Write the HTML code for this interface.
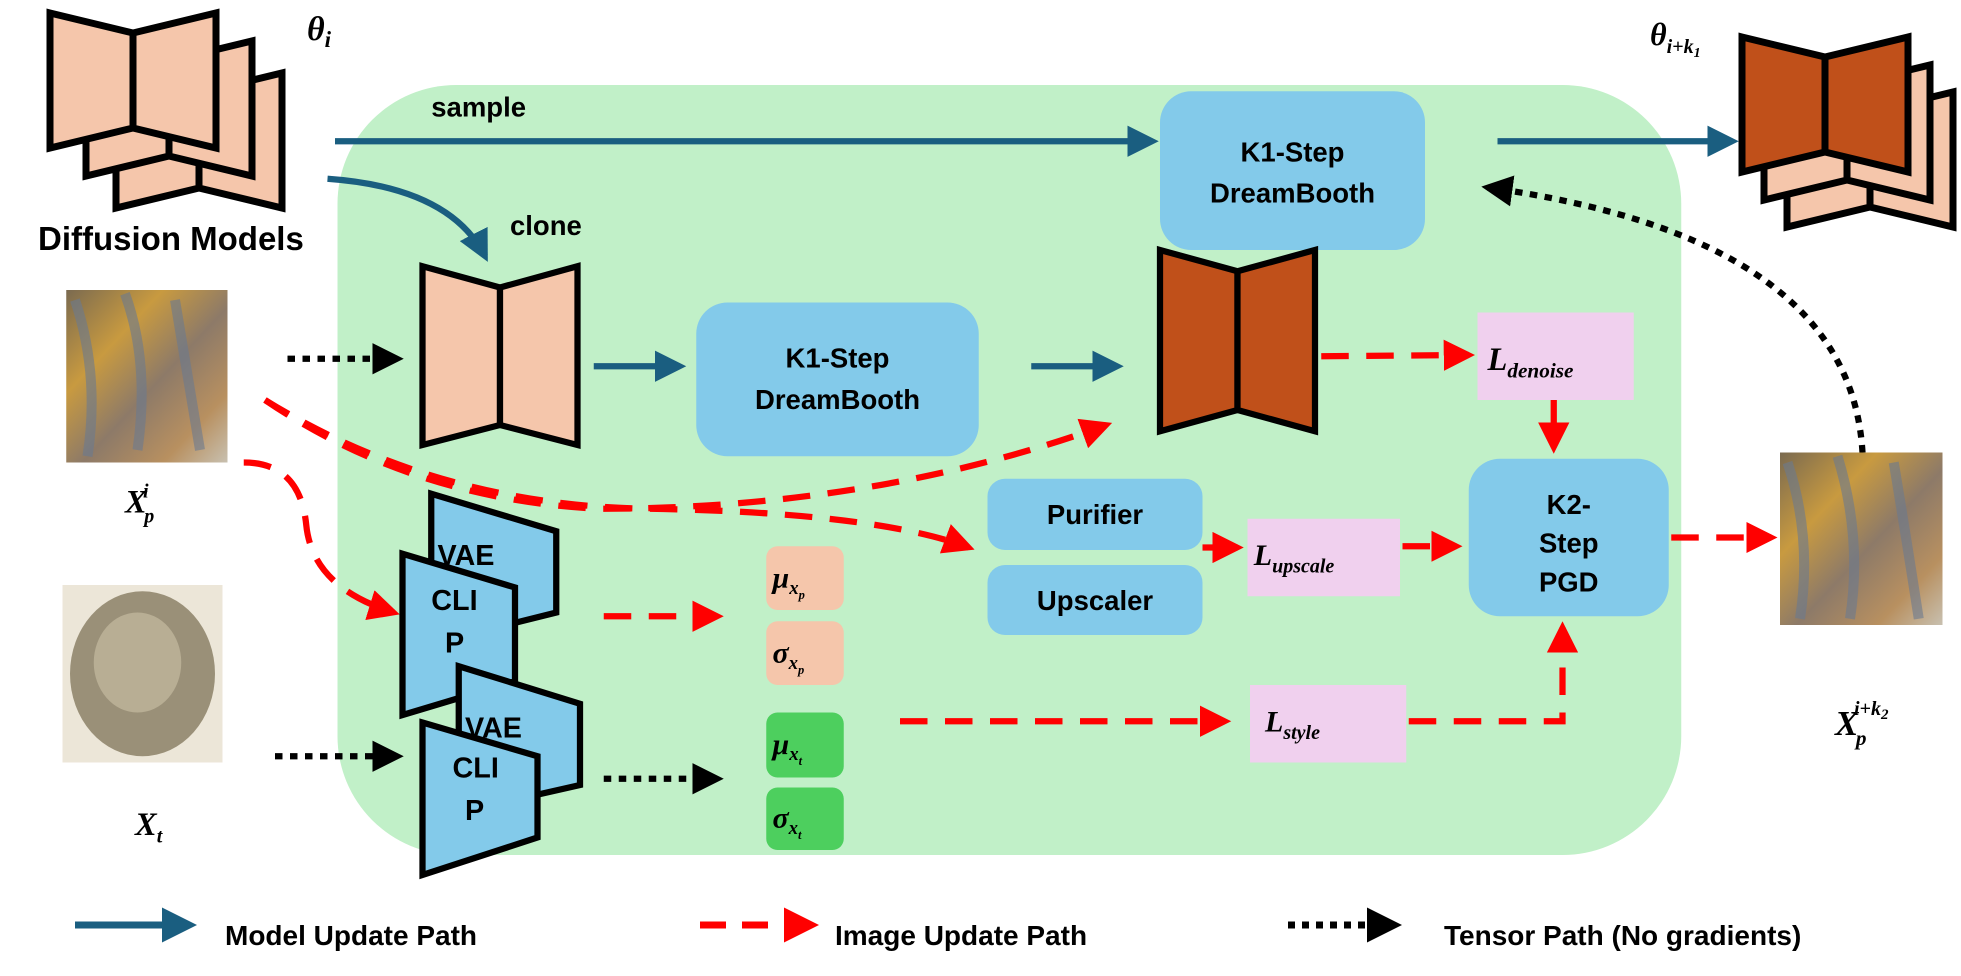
<!DOCTYPE html>
<html><head><meta charset="utf-8"><style>
html,body{margin:0;padding:0;background:#fff}
svg{display:block}
text{font-family:"Liberation Sans",sans-serif;font-weight:bold;fill:#000}
.m{font-family:"Liberation Serif",serif;font-style:italic;font-weight:bold}
</style></head><body>
<svg width="1961" height="976" viewBox="0 0 1961 976" xmlns="http://www.w3.org/2000/svg">
<defs>
<marker id="ab" markerWidth="5" markerHeight="5" refX="4" refY="2.5" orient="auto" markerUnits="strokeWidth"><path d="M0,0 L5,2.5 L0,5z" fill="#1A5E80"/></marker>
<marker id="ar" markerWidth="5" markerHeight="5" refX="4" refY="2.5" orient="auto" markerUnits="strokeWidth"><path d="M0,0 L5,2.5 L0,5z" fill="#f00"/></marker>
<marker id="ak" markerWidth="5" markerHeight="5" refX="4" refY="2.5" orient="auto" markerUnits="strokeWidth"><path d="M0,0 L5,2.5 L0,5z" fill="#000"/></marker>
<linearGradient id="vg" x1="0" y1="0" x2="1" y2="1">
<stop offset="0" stop-color="#7a6a50"/><stop offset="0.3" stop-color="#c89a40"/><stop offset="0.55" stop-color="#8d7a68"/><stop offset="0.8" stop-color="#b89060"/><stop offset="1" stop-color="#c8c0b0"/></linearGradient>
</defs>

<g transform="scale(1.25)">
<rect x="270" y="68" width="1075" height="616" rx="95" fill="#C1F0C8"/>

<text x="345" y="93" font-size="22">sample</text>
<text x="408" y="188" font-size="22">clone</text>

<line x1="268" y1="113" x2="922" y2="113" stroke="#1A5E80" stroke-width="5" marker-end="url(#ab)"/>
<path d="M262,143 Q360,150 388,205" fill="none" stroke="#1A5E80" stroke-width="5" marker-end="url(#ab)"/>
<rect x="928" y="73" width="212" height="127" rx="25" fill="#83CAEA"/>
<text x="1034" y="129" font-size="22" text-anchor="middle">K1-Step</text>
<text x="1034" y="162" font-size="22" text-anchor="middle">DreamBooth</text>
<line x1="1198" y1="113" x2="1386" y2="113" stroke="#1A5E80" stroke-width="5" marker-end="url(#ab)"/>
<path d="M1490,362 Q1480,190 1190,150" fill="none" stroke="#000" stroke-width="5" stroke-dasharray="6,6" marker-end="url(#ak)"/>

<rect x="53" y="232" width="129" height="138" fill="url(#vg)"/>
<path d="M60,240 Q80,300 70,365 M100,235 Q120,290 110,360 M140,240 Q150,300 160,360" stroke="#6a7a90" stroke-width="8" fill="none" opacity="0.6"/>
<text x="100" y="410" font-size="26" class="m">X<tspan font-size="16" dy="8" dx="-2">p</tspan><tspan font-size="16" dy="-20" dx="-9">i</tspan></text>
<line x1="230" y1="287" x2="318" y2="287" stroke="#000" stroke-width="5" stroke-dasharray="6,6" marker-end="url(#ak)"/>

<g stroke="#000" stroke-width="5">
<polygon points="338,213 400,230 400,340 338,356" fill="#F5C6AB"/><polygon points="400,230 462,213 462,356 400,340" fill="#F5C6AB"/>
<polygon points="928,200 990,217 990,328 928,345" fill="#C0501A"/><polygon points="990,217 1052,200 1052,345 990,328" fill="#C0501A"/>
</g>
<line x1="475" y1="293" x2="544" y2="293" stroke="#1A5E80" stroke-width="5" marker-end="url(#ab)"/>
<rect x="557" y="242" width="226" height="123" rx="25" fill="#83CAEA"/>
<text x="670" y="294" font-size="22" text-anchor="middle">K1-Step</text>
<text x="670" y="327" font-size="22" text-anchor="middle">DreamBooth</text>
<line x1="825" y1="293" x2="894" y2="293" stroke="#1A5E80" stroke-width="5" marker-end="url(#ab)"/>

<line x1="1057" y1="285" x2="1175" y2="284" stroke="#f00" stroke-width="5" stroke-dasharray="22,14" marker-end="url(#ar)"/>
<rect x="1182" y="250" width="125" height="70" fill="#F0D0EE"/>
<text x="1190" y="296" font-size="26" class="m">L<tspan font-size="17" dy="6">denoise</tspan></text>
<line x1="1243" y1="320" x2="1243" y2="358" stroke="#f00" stroke-width="5" stroke-dasharray="22,14" marker-end="url(#ar)"/>
<rect x="1175" y="367" width="160" height="126" rx="25" fill="#83CAEA"/>
<text x="1255" y="411" font-size="22" text-anchor="middle">K2-</text>
<text x="1255" y="442" font-size="22" text-anchor="middle">Step</text>
<text x="1255" y="473" font-size="22" text-anchor="middle">PGD</text>

<rect x="790" y="383" width="172" height="57" rx="14" fill="#83CAEA"/>
<text x="876" y="419" font-size="22" text-anchor="middle">Purifier</text>
<rect x="790" y="452" width="172" height="56" rx="14" fill="#83CAEA"/>
<text x="876" y="488" font-size="22" text-anchor="middle">Upscaler</text>
<line x1="962" y1="438" x2="990" y2="438" stroke="#f00" stroke-width="5" marker-end="url(#ar)"/>
<rect x="998" y="415" width="122" height="62" fill="#F0D0EE"/>
<text x="1003" y="452" font-size="24" class="m">L<tspan font-size="16" dy="6">upscale</tspan></text>
<line x1="1122" y1="437" x2="1165" y2="437" stroke="#f00" stroke-width="5" stroke-dasharray="22,14" marker-end="url(#ar)"/>
<line x1="1337" y1="430" x2="1417" y2="430" stroke="#f00" stroke-width="5" stroke-dasharray="22,14" marker-end="url(#ar)"/>

<rect x="1424" y="362" width="130" height="138" fill="url(#vg)"/>
<path d="M1430,370 Q1450,430 1440,495 M1470,365 Q1490,430 1480,495 M1515,370 Q1525,430 1535,495" stroke="#6a7a90" stroke-width="8" fill="none" opacity="0.6"/>
<text x="1468" y="588" font-size="28" class="m">X<tspan font-size="17" dy="8" dx="-2">p</tspan><tspan font-size="16" dy="-24" dx="-10">i+k</tspan><tspan font-size="12" dy="3">2</tspan></text>

<path d="M212,320 Q350,405 520,407 Q700,410 775,438" fill="none" stroke="#f00" stroke-width="5" stroke-dasharray="22,14" marker-end="url(#ar)"/>
<path d="M212,320 Q330,400 480,407 Q700,407 885,340" fill="none" stroke="#f00" stroke-width="5" stroke-dasharray="22,14" marker-end="url(#ar)"/>
<path d="M195,370 Q240,370 245,420 Q250,470 315,490" fill="none" stroke="#f00" stroke-width="5" stroke-dasharray="22,14" marker-end="url(#ar)"/>

<g stroke="#000" stroke-width="5" fill="#83CAEA">
<polygon points="345,395 445,425 445,490 345,515"/>
<polygon points="322,443 412,470 412,545 322,572"/>
<polygon points="367,533 464,563 464,628 367,650"/>
<polygon points="338,578 430,605 430,670 338,700"/>
</g>
<text x="350" y="452" font-size="23">VAE</text>
<text x="345" y="488" font-size="23">CLI</text>
<text x="356" y="522" font-size="23">P</text>
<text x="372" y="590" font-size="23">VAE</text>
<text x="362" y="622" font-size="23">CLI</text>
<text x="372" y="656" font-size="23">P</text>

<line x1="483" y1="493" x2="574" y2="493" stroke="#f00" stroke-width="5" stroke-dasharray="22,14" marker-end="url(#ar)"/>
<rect x="613" y="437" width="62" height="51" rx="9" fill="#F5C6AB"/>
<rect x="613" y="497" width="62" height="51" rx="9" fill="#F5C6AB"/>
<text x="618" y="470" font-size="24" class="m">μ<tspan font-size="15" dy="5">x</tspan><tspan font-size="10" dy="4">p</tspan></text>
<text x="618" y="530" font-size="24" class="m">σ<tspan font-size="15" dy="5">x</tspan><tspan font-size="10" dy="4">p</tspan></text>
<rect x="613" y="570" width="62" height="52" rx="9" fill="#4DCF5E"/>
<rect x="613" y="630" width="62" height="50" rx="9" fill="#4DCF5E"/>
<text x="618" y="603" font-size="24" class="m">μ<tspan font-size="15" dy="5">x</tspan><tspan font-size="10" dy="4">t</tspan></text>
<text x="618" y="662" font-size="24" class="m">σ<tspan font-size="15" dy="5">x</tspan><tspan font-size="10" dy="4">t</tspan></text>
<line x1="483" y1="623" x2="574" y2="623" stroke="#000" stroke-width="5" stroke-dasharray="6,6" marker-end="url(#ak)"/>

<line x1="720" y1="577" x2="980" y2="577" stroke="#f00" stroke-width="5" stroke-dasharray="22,14" marker-end="url(#ar)"/>
<rect x="1000" y="548" width="125" height="62" fill="#F0D0EE"/>
<text x="1012" y="585" font-size="24" class="m">L<tspan font-size="16" dy="6">style</tspan></text>
<path d="M1127,577 L1250,577 L1250,502" fill="none" stroke="#f00" stroke-width="5" stroke-dasharray="22,14" marker-end="url(#ar)"/>

<rect x="50" y="468" width="128" height="142" fill="#ece6d8"/>
<ellipse cx="114" cy="539" rx="58" ry="66" fill="#9a9078"/>
<ellipse cx="110" cy="530" rx="35" ry="40" fill="#b8ae94"/>
<text x="108" y="668" font-size="26" class="m">X<tspan font-size="16" dy="6">t</tspan></text>
<line x1="220" y1="605" x2="318" y2="605" stroke="#000" stroke-width="5" stroke-dasharray="6,6" marker-end="url(#ak)"/>
</g>

<line x1="75" y1="925" x2="190" y2="925" stroke="#1A5E80" stroke-width="7" marker-end="url(#ab)"/>
<text x="225" y="945" font-size="28">Model Update Path</text>
<line x1="700" y1="925" x2="812" y2="925" stroke="#f00" stroke-width="7" stroke-dasharray="26,16" marker-end="url(#ar)"/>
<text x="835" y="945" font-size="28">Image Update Path</text>
<line x1="1288" y1="925" x2="1395" y2="925" stroke="#000" stroke-width="7" stroke-dasharray="7,7" marker-end="url(#ak)"/>
<text x="1444" y="945" font-size="28">Tensor Path (No gradients)</text>

<g stroke="#000" stroke-width="7" fill="#F5C6AB">
<g transform="translate(66,60)"><polygon points="50,13 133,33 133,128 50,148"/><polygon points="133,33 216,13 216,148 133,128"/></g>
<g transform="translate(36,28)"><polygon points="50,13 133,33 133,128 50,148"/><polygon points="133,33 216,13 216,148 133,128"/></g>
<polygon points="50,13 133,33 133,128 50,148"/><polygon points="133,33 216,13 216,148 133,128"/>
</g>
<text x="38" y="250" font-size="33">Diffusion Models</text>
<text x="307" y="40" font-size="34" class="m">θ<tspan font-size="23" dy="7">i</tspan></text>

<g transform="translate(1692,24)" stroke="#000" stroke-width="7">
<g transform="translate(45,55)" fill="#F5C6AB"><polygon points="50,13 133,33 133,128 50,148"/><polygon points="133,33 216,13 216,148 133,128"/></g>
<g transform="translate(22,28)" fill="#F5C6AB"><polygon points="50,13 133,33 133,128 50,148"/><polygon points="133,33 216,13 216,148 133,128"/></g>
<g fill="#C0501A"><polygon points="50,13 133,33 133,128 50,148"/><polygon points="133,33 216,13 216,148 133,128"/></g>
</g>
<text x="1650" y="45" font-size="32" class="m">θ<tspan font-size="20" dy="8">i+k</tspan><tspan font-size="14" dy="4">1</tspan></text>
</svg>
</body></html>
